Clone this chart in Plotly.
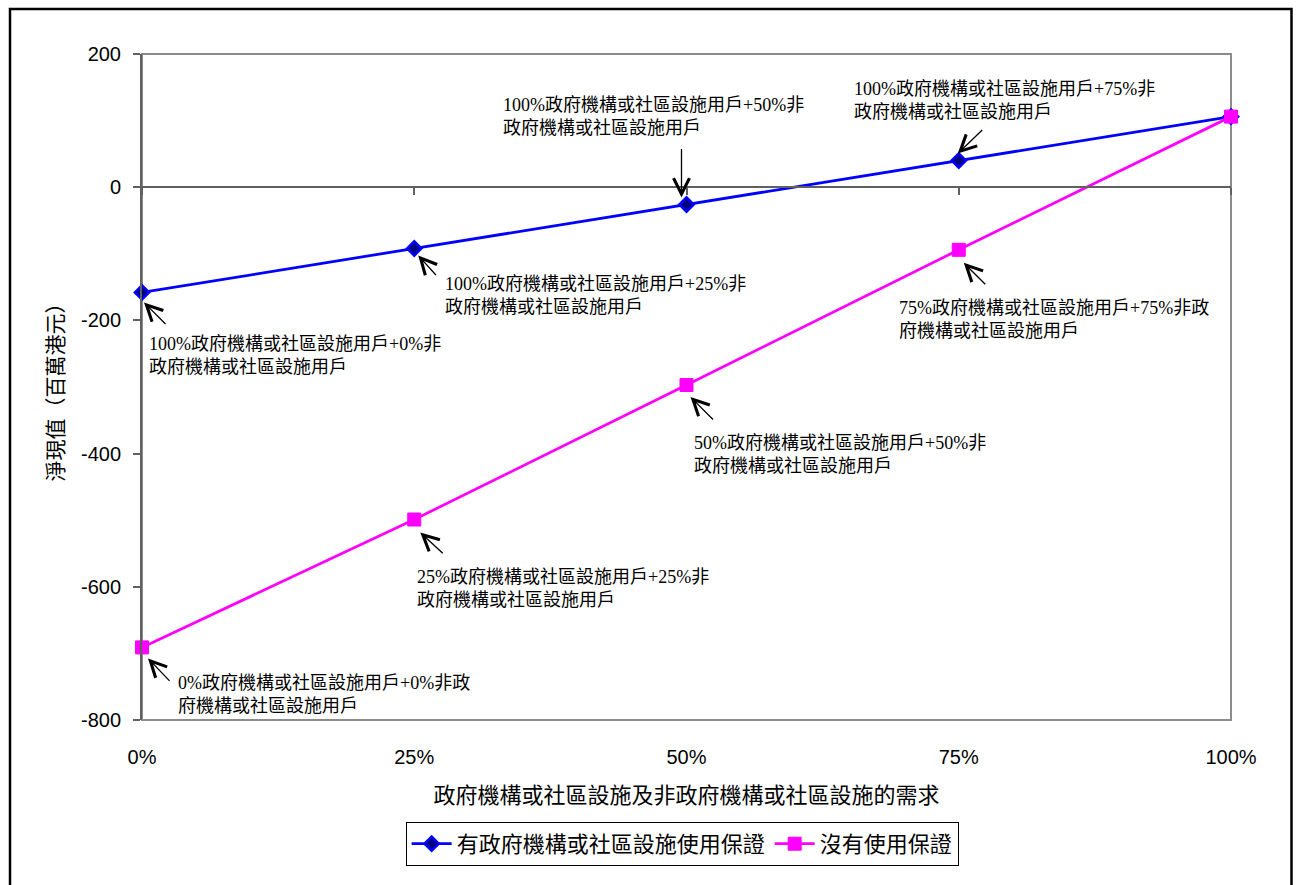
import plotly.graph_objects as go

# ---- data ----
categories = ["0%", "25%", "50%", "75%", "100%"]
guaranteed = [-158, -92, -26, 40, 106]          # 有政府機構或社區設施使用保證
not_guaranteed = [-691, -499, -297, -94, 106]   # 沒有使用保證
series_names = ["有政府機構或社區設施使用保證", "沒有使用保證"]
y_ticks = [-800, -600, -400, -200, 0, 200]

blue_labels = [
    "100%政府機構或社區設施用戶+0%非<br>政府機構或社區設施用戶",
    "100%政府機構或社區設施用戶+25%非<br>政府機構或社區設施用戶",
    "100%政府機構或社區設施用戶+50%非<br>政府機構或社區設施用戶",
    "100%政府機構或社區設施用戶+75%非<br>政府機構或社區設施用戶",
    None,
]
pink_labels = [
    "0%政府機構或社區設施用戶+0%非政<br>府機構或社區設施用戶",
    "25%政府機構或社區設施用戶+25%非<br>政府機構或社區設施用戶",
    "50%政府機構或社區設施用戶+50%非<br>政府機構或社區設施用戶",
    "75%政府機構或社區設施用戶+75%非政<br>府機構或社區設施用戶",
    None,
]
x_title = "政府機構或社區設施及非政府機構或社區設施的需求"
y_title = "淨現值（百萬港元）"

# ---- layout / style (pixel offsets relative to each point) ----
# arrow: (xshift, yshift, ax, ay) ; text: (xshift, yshift)
blue_arrow = [(2, -10, 23, 23), (4, -7, 19, 21), (-5, 7, 0, -50), (-1, 7, 26, -25), None]
blue_text = [(5, -63), (29, -47), (-186, 88), (-107, 60), None]
pink_arrow = [(6, -11, 23, 24), (6, -13, 24, 22), (4, -12, 24, 24), (5, -13, 23, 23), None]
pink_text = [(34, -47), (1, -69), (5, -69), (-62, -70), None]

SANS = "Liberation Sans, Arial, Noto Sans CJK TC, sans-serif"
SERIF = "Liberation Serif, Times New Roman, Noto Sans CJK TC, serif"

fig = go.Figure()
fig.add_trace(go.Scatter(
    x=categories, y=guaranteed, name=series_names[0], mode="lines+markers",
    line=dict(color="#0000FF", width=2.75),
    marker=dict(symbol="diamond", size=11, color="#000080", line=dict(color="#0000FF", width=2.5)),
    cliponaxis=False,
))
fig.add_trace(go.Scatter(
    x=categories, y=not_guaranteed, name=series_names[1], mode="lines+markers",
    line=dict(color="#FF00FF", width=2.75),
    marker=dict(symbol="square", size=13, color="#FF00FF", line=dict(color="#FF00FF", width=1)),
    cliponaxis=False,
))
# dummy trace to carry the category axis drawn at y = 0
fig.add_trace(go.Scatter(x=categories, y=[None] * len(categories), xaxis="x2",
                         showlegend=False, hoverinfo="skip", mode="lines"))

annotations = []
for cats, vals, labels, arrows, texts in [
    (categories, guaranteed, blue_labels, blue_arrow, blue_text),
    (categories, not_guaranteed, pink_labels, pink_arrow, pink_text),
]:
    for c, v, lab, ar, tx in zip(cats, vals, labels, arrows, texts):
        if lab is None:
            continue
        xs, ys, ax, ay = ar
        annotations.append(dict(
            x=c, y=v, xref="x", yref="y", text="", showarrow=True,
            ax=ax, ay=ay, xshift=xs, yshift=ys, standoff=0,
            arrowhead=5, arrowsize=2.4, arrowwidth=1.3, arrowcolor="#000000",
        ))
        annotations.append(dict(
            x=c, y=v, xref="x", yref="y", text=lab, showarrow=False,
            xanchor="left", yanchor="middle", align="left",
            xshift=tx[0], yshift=tx[1],
            font=dict(family=SERIF, size=18, color="#000000"),
        ))

y_min, y_max = y_ticks[0], y_ticks[-1]
zero_pos = (0 - y_min) / (y_max - y_min)

fig.update_layout(
    width=1298, height=885, autosize=False,
    paper_bgcolor="white", plot_bgcolor="white",
    margin=dict(l=142, r=67, t=54, b=165),
    showlegend=True,
    legend=dict(
        orientation="h", x=0.496, xanchor="center", y=-0.153, yanchor="top",
        bordercolor="#000000", borderwidth=1, bgcolor="white",
        font=dict(family=SANS, size=22, color="#000000"),
        itemwidth=40,
    ),
    xaxis=dict(
        type="category", categoryorder="array", categoryarray=categories,
        range=[0, len(categories) - 1],
        showline=False, showgrid=False, zeroline=False,
        ticks="outside", ticklen=19, tickcolor="rgba(0,0,0,0)",
        tickfont=dict(family=SANS, size=20, color="#000000"),
        title=dict(text=x_title, font=dict(family=SANS, size=22, color="#000000"), standoff=20),
    ),
    xaxis2=dict(
        type="category", categoryorder="array", categoryarray=categories,
        overlaying="x", matches="x", anchor="free", position=zero_pos, side="bottom",
        showline=True, linecolor="#606060", linewidth=1.5,
        ticks="outside", ticklen=7, tickcolor="#606060", tickwidth=1.5,
        showticklabels=False, showgrid=False, zeroline=False,
    ),
    yaxis=dict(
        range=[y_min, y_max], tickvals=y_ticks, ticktext=[str(t) for t in y_ticks],
        showline=True, linecolor="#606060", linewidth=2,
        ticks="outside", ticklen=7, tickcolor="#606060", tickwidth=1.5,
        ticklabelstandoff=8,
        showgrid=False, zeroline=False,
        tickfont=dict(family=SANS, size=20, color="#000000"),
        title=dict(text=y_title, font=dict(family=SANS, size=21, color="#000000"), standoff=12),
    ),
    annotations=annotations,
    shapes=[
        # plot-area border
        dict(type="rect", xref="paper", yref="paper", x0=0, x1=1, y0=0, y1=1,
             line=dict(color="#8c8c8c", width=2), layer="below"),
        # outer chart frame
        dict(type="rect", xref="paper", yref="paper",
             xsizemode="pixel", xanchor=0, x0=-132, x1=1149.5,
             ysizemode="pixel", yanchor=0, y0=-170, y1=711,
             line=dict(color="#000000", width=2.5)),
    ],
)

fig.write_html("out.html")
